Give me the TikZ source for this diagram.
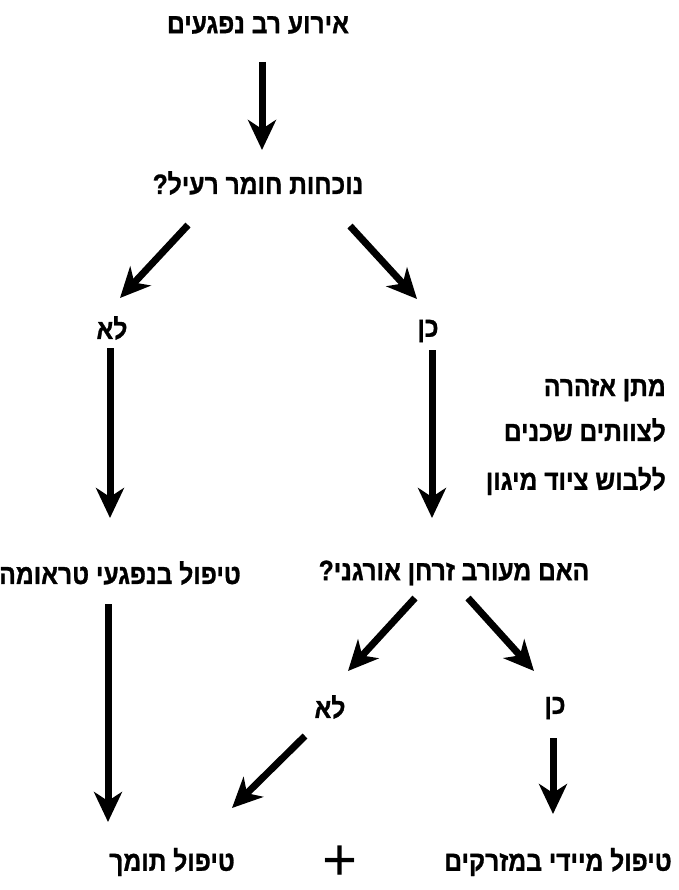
\documentclass[tikz,border=0pt]{standalone}
\usepackage{fontspec}
\usetikzlibrary{arrows.meta}
\TeXXeTstate=1
\newfontfamily\hebfont[Script=Hebrew,BoldFeatures={FakeStretch=0.88,FakeBold=1}]{Liberation Sans}
\begin{document}
\begin{tikzpicture}[x=1pt,y=-1pt,
  lbl/.style={font=\hebfont\bfseries\fontsize{28}{30}\selectfont, inner sep=0pt},
  arr/.style={line width=7pt, -{Stealth[length=30pt,width=28pt,inset=9pt]}}]
\useasboundingbox (0,0) rectangle (678,890);
\node[lbl] (t1) at (258,25) {\beginR אירוע רב נפגעים\endR};
\node[lbl] (q1) at (258,183) {\beginR נוכחות חומר רעיל?\endR};
\node[lbl] (no1) at (112,328) {\beginR לא\endR};
\node[lbl] (yes1) at (428,331) {\beginR כן\endR};
\node[lbl, anchor=east] (warn1) at (666,390) {\beginR מתן אזהרה\endR};
\node[lbl, anchor=east] (warn2) at (666,430) {\beginR לצוותים שכנים\endR};
\node[lbl, anchor=east] (warn3) at (666,481) {\beginR ללבוש ציוד מיגון\endR};
\node[lbl] (trauma) at (120,573) {\beginR טיפול בנפגעי טראומה\endR};
\node[lbl] (q2) at (454,573) {\beginR האם מעורב זרחן אורגני?\endR};
\node[lbl] (no2) at (330,707) {\beginR לא\endR};
\node[lbl] (yes2) at (555,708) {\beginR כן\endR};
\node[lbl] (supp) at (172,862) {\beginR טיפול תומך\endR};
\node[inner sep=0pt, text height=40pt, text depth=0pt, anchor=base, font=\hebfont\fontsize{60}{60}\selectfont] (plus) at (340,880) {+};
\node[lbl] (imm) at (558,862) {\beginR טיפול מיידי במזרקים\endR};
\coordinate (a1s) at (262,62); \coordinate (a1e) at (262,150);
\coordinate (a2s) at (188,225); \coordinate (a2e) at (120,298);
\coordinate (a3s) at (350,226); \coordinate (a3e) at (417,299);
\coordinate (a4s) at (110,348); \coordinate (a4e) at (110,518);
\coordinate (a5s) at (432,350); \coordinate (a5e) at (432,518);
\coordinate (a6s) at (415,598); \coordinate (a6e) at (348,671);
\coordinate (a7s) at (468,598); \coordinate (a7e) at (534,671);
\coordinate (a8s) at (108,604); \coordinate (a8e) at (108,822);
\coordinate (a9s) at (305,736); \coordinate (a9e) at (232,808);
\coordinate (a10s) at (553,738); \coordinate (a10e) at (553,814);
\draw[arr] (a1s) -- (a1e);
\draw[arr] (a2s) -- (a2e);
\draw[arr] (a3s) -- (a3e);
\draw[arr] (a4s) -- (a4e);
\draw[arr] (a5s) -- (a5e);
\draw[arr] (a6s) -- (a6e);
\draw[arr] (a7s) -- (a7e);
\draw[arr] (a8s) -- (a8e);
\draw[arr] (a9s) -- (a9e);
\draw[arr] (a10s) -- (a10e);
\end{tikzpicture}
\end{document}
